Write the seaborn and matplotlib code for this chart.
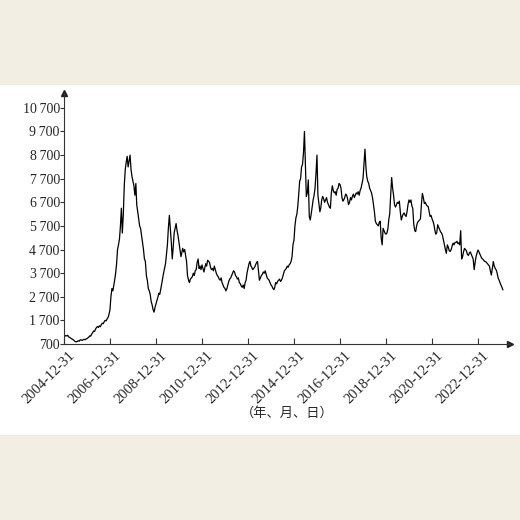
import pandas as pd
import numpy as np
import matplotlib
matplotlib.use("Agg")
import matplotlib.pyplot as plt
import matplotlib.dates as mdates
from matplotlib.patches import Rectangle
import seaborn as sns

sns.set_style("ticks")
plt.rcParams['font.family'] = ['Liberation Serif', 'DejaVu Serif']

# half-month index values (15th and month end)
start_date = '2004-12-31'
v2004 = [1000]
v2005 = [1030, 1060, 1040, 1070, 1000, 980, 950, 920, 900, 870, 830, 800,
         790, 810, 840, 820, 880, 870, 850, 880, 900, 880, 910, 930]
v2006 = [960, 1000, 1050, 1030, 1120, 1180, 1250, 1230, 1330, 1400, 1440, 1400,
         1470, 1430, 1520, 1580, 1560, 1640, 1700, 1680, 1760, 1820, 1950, 2150]
v2007 = [2700, 3050, 2950, 3150, 3400, 3700, 4100, 4700, 4900, 5150, 5700, 6450,
         5400, 6200, 7400, 8100, 8400, 8650, 8200, 8450, 8700, 8100, 7800, 7600]
v2008 = [7400, 7000, 7500, 6600, 6300, 6000, 5700, 5600, 5300, 5000, 4700, 4300,
         4200, 3600, 3400, 3050, 2950, 2800, 2500, 2350, 2150, 2050, 2250, 2400]
v2009 = [2550, 2700, 2850, 2800, 3000, 3250, 3500, 3700, 3900, 4100, 4500, 4900,
         5600, 6150, 5600, 5000, 4300, 4800, 5400, 5600, 5800, 5500, 5300, 5000]
v2010 = [4700, 4400, 4600, 4750, 4600, 4700, 4450, 4200, 3600, 3400, 3300, 3450,
         3500, 3550, 3700, 3600, 3800, 3850, 4150, 4300, 3900, 4000, 3850, 4050]
v2011 = [3900, 3750, 3950, 4100, 4000, 4250, 4200, 4150, 3950, 3850, 3900, 3800,
         4000, 3850, 3700, 3600, 3550, 3450, 3400, 3500, 3300, 3200, 3100, 3050]
v2012 = [2950, 3050, 3200, 3350, 3450, 3500, 3600, 3700, 3800, 3750, 3600, 3550,
         3450, 3500, 3300, 3250, 3150, 3100, 3200, 3050, 3300, 3400, 3700, 3900]
v2013 = [4100, 4200, 4000, 3950, 3850, 3900, 3950, 4050, 4150, 4200, 3800, 3400,
         3500, 3600, 3650, 3750, 3700, 3800, 3650, 3500, 3450, 3400, 3300, 3200]
v2014 = [3150, 3050, 3000, 3100, 3300, 3250, 3350, 3400, 3450, 3350, 3400, 3500,
         3650, 3800, 3850, 3900, 4000, 3950, 4050, 4100, 4200, 4400, 4900, 5100]
v2015 = [5700, 6050, 6200, 6500, 7000, 7600, 7700, 8200, 8300, 8800, 9700, 8300,
         6950, 7100, 7650, 6100, 5950, 6200, 6500, 6800, 7000, 7300, 7900, 8700]
v2016 = [7000, 6650, 6300, 6450, 6800, 6950, 6850, 6700, 6800, 6900, 6700, 6600,
         6500, 6450, 7100, 7400, 7200, 7100, 7150, 7000, 7250, 7300, 7500, 7450]
v2017 = [7300, 6900, 6750, 6800, 6900, 7050, 7000, 6850, 6600, 6700, 6900, 6800,
         6950, 7050, 6900, 7000, 7100, 7050, 7150, 7000, 7200, 7300, 7500, 7700]
v2018 = [8300, 8950, 8200, 7800, 7600, 7500, 7300, 7200, 7100, 6900, 6600, 6300,
         5900, 5800, 5750, 5700, 5850, 5900, 5200, 4900, 5600, 5500, 5400, 5350]
v2019 = [5400, 5600, 6000, 6200, 7000, 7750, 7300, 7000, 6600, 6500, 6600, 6700,
         6650, 6750, 6300, 5950, 6100, 6200, 6250, 6150, 6100, 6300, 6600, 6800]
v2020 = [6700, 6800, 6550, 6450, 5800, 5500, 5460, 5700, 5850, 5900, 5950, 6000,
         6600, 7080, 6900, 6650, 6700, 6600, 6550, 6520, 6300, 6100, 6150, 6000]
v2021 = [5900, 5740, 5500, 5350, 5400, 5750, 5650, 5550, 5450, 5400, 5300, 5100,
         4900, 4700, 4540, 4900, 4800, 4650, 4620, 4700, 4850, 4970, 4900, 5000]
v2022 = [5000, 5050, 4950, 4980, 4900, 5500, 4300, 4400, 4600, 4750, 4700, 4650,
         4500, 4450, 4550, 4600, 4500, 4400, 4300, 3850, 4150, 4400, 4550, 4680]
v2023 = [4600, 4500, 4400, 4330, 4300, 4250, 4200, 4190, 4150, 4100, 4050, 4000,
         3800, 3620, 3900, 4190, 4000, 3900, 3840, 3700, 3500, 3410, 3300, 3200]
v2024 = [3100, 2990]

values = (v2004 + v2005 + v2006 + v2007 + v2008 + v2009 + v2010 + v2011 + v2012
          + v2013 + v2014 + v2015 + v2016 + v2017 + v2018 + v2019 + v2020
          + v2021 + v2022 + v2023 + v2024)
dates = pd.date_range(start_date, periods=len(values), freq='SME')
df = pd.DataFrame({'date': dates, 'value': values})

xtick_labels = ['2004-12-31', '2006-12-31', '2008-12-31', '2010-12-31', '2012-12-31',
                '2014-12-31', '2016-12-31', '2018-12-31', '2020-12-31', '2022-12-31']
ytick_values = [700, 1700, 2700, 3700, 4700, 5700, 6700, 7700, 8700, 9700, 10700]

fig = plt.figure(figsize=(5.2, 5.2), dpi=100, facecolor='#f2eee3')
fig.patches.append(Rectangle((0, 85 / 520), 1, 350 / 520, transform=fig.transFigure,
                             facecolor='white', edgecolor='none', zorder=-10))
ax = fig.add_axes([64 / 520, 176 / 520, 446 / 520, 251 / 520])
ax.set_zorder(5)
ax.set_facecolor('none')

sns.lineplot(data=df, x='date', y='value', color='black', linewidth=0.9, ax=ax)

ax.set_xlim(pd.Timestamp('2004-12-31'), pd.Timestamp('2024-05-22'))
ax.set_ylim(700, 11330)

xticks = pd.to_datetime(xtick_labels)
ax.set_xticks(xticks)
ax.set_xticklabels([])
# rotated date labels hanging below each tick
for d, lab in zip(mdates.date2num(xticks), xtick_labels):
    ax.annotate(lab, xy=(d, 0), xycoords=ax.get_xaxis_transform(),
                xytext=(6.5, -7), textcoords='offset points', rotation=45,
                ha='right', va='center', rotation_mode='anchor', fontsize=10.5,
                annotation_clip=False)

ax.set_yticks(ytick_values)
ax.set_yticklabels([f'{v:,}'.replace(',', '\u2009') for v in ytick_values], fontsize=10)

ax.tick_params(axis='x', direction='in', length=4, width=0.8, color='#333333', pad=0)
ax.tick_params(axis='y', direction='out', length=3, width=0.8, color='#333333', pad=0)

sns.despine(ax=ax)
for s in ['left', 'bottom']:
    ax.spines[s].set_color('#333333')
    ax.spines[s].set_linewidth(0.8)

# arrow heads on the axes
ax.plot(1, 0, '>', color='#222222', markersize=5, transform=ax.transAxes, clip_on=False)
ax.plot(0, 1, '^', color='#222222', markersize=5, transform=ax.transAxes, clip_on=False)

ax.set_ylabel('')
ax.set_xlabel('')
ax.text(0.5, -69 / 251, '（年、月、日）', transform=ax.transAxes, ha='center', va='center',
        family=['Noto Sans CJK SC', 'DejaVu Sans'], fontsize=9.5)

fig.savefig('out.png', dpi=100, facecolor=fig.get_facecolor())
